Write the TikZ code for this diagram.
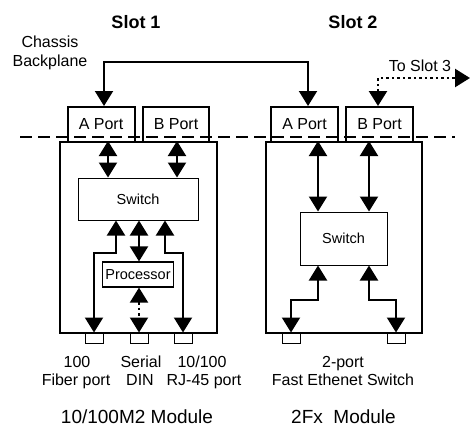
\documentclass[tikz,border=0pt]{standalone}
\usepackage{fontspec}
\setmainfont{Liberation Sans}
\usetikzlibrary{arrows.meta}
\begin{document}
\begin{tikzpicture}[x=1pt, y=-1pt, line join=miter,
  lbl/.style={font=\fontsize{16}{19}\selectfont, inner sep=0pt, anchor=base},
  big/.style={font=\fontsize{19}{22}\selectfont, inner sep=0pt, anchor=base},
  title/.style={font=\fontsize{18}{21}\selectfont\bfseries, inner sep=0pt, anchor=base},
  box/.style={draw, line width=2pt, inner sep=0pt},
  port/.style={box, minimum width=67pt, minimum height=35pt, font=\fontsize{16}{19}\selectfont},
  chip/.style={draw, line width=1pt, inner sep=0pt, font=\fontsize{14.5}{17}\selectfont},
  jack/.style={draw, line width=1pt, minimum width=18pt, minimum height=10pt, inner sep=0pt},
  link/.style={line width=2pt, {Triangle[width=18pt,length=15pt]}-{Triangle[width=18pt,length=15pt]}},
  dots/.style={dash pattern=on 2.5pt off 3pt}]
\useasboundingbox (0,0) rectangle (474,429);
% slot titles
\node[title] (slot1) at (136,28) {Slot 1};
\node[title] (slot2) at (353,28) {Slot 2};
\node[lbl] (chas) at (50,47) {Chassis};
\node[lbl] (bplane) at (50,66) {Backplane};
\node[lbl] (toslot) at (420,71) {To Slot 3};
% modules
\node[box, minimum width=157pt, minimum height=191pt] (m1) at (138.5,237.5) {};
\node[box, minimum width=156pt, minimum height=191pt] (m2) at (344,237.5) {};
\node[port] (a1) at (101,124.5) {A Port};
\node[port, minimum width=66pt] (b1) at (176,124.5) {B Port};
\node[port] (a2) at (304.5,124.5) {A Port};
\node[port] (b2) at (379.5,124.5) {B Port};
\node[chip, minimum width=120pt, minimum height=42pt] (sw1) at (138,199) {Switch};
\node[chip, line width=1.2pt, minimum width=71pt, minimum height=25pt] (pr1) at (138,274.5) {Processor};
\node[chip, minimum width=87pt, minimum height=53pt] (sw2) at (343.5,238.5) {Switch};
% front jacks
\node[jack] (j1a) at (94,338) {};
\node[jack] (j1b) at (139,338) {};
\node[jack] (j1c) at (183,338) {};
\node[jack] (j2a) at (291,338) {};
\node[jack] (j2b) at (396,338) {};
% backplane
\coordinate (bpL) at (104,62); \coordinate (bpR) at (308,62);
\draw[link] (bpL |- a1.north) -- (bpL) -- (bpR) -- (bpR |- a2.north);
\coordinate (tsA) at (378,78); \coordinate (tsB) at (470,78);
\draw[link, dots, line width=2.5pt] (tsA |- b2.north) -- (tsA) -- (tsB);
% slot 1 inside
\coordinate (t1a) at (108,160); \coordinate (t1b) at (177,160);
\draw[link] (t1a |- m1.north) -- (t1a |- sw1.north);
\draw[link] (t1b |- m1.north) -- (t1b |- sw1.north);
\coordinate (k1a) at (116,253); \coordinate (k1c) at (165,253);
\draw[link] (k1a |- sw1.south) -- (k1a) -| (j1a.north);
\draw[link] (k1c |- sw1.south) -- (k1c) -| (j1c.north);
\draw[link] (sw1.south -| j1b) -- (pr1.north -| j1b);
\draw[link, dots] (pr1.south -| j1b) -- (j1b.north);
% slot 2 inside
\coordinate (k2a) at (318,300); \coordinate (k2b) at (369,300);
\draw[link] (k2a |- m2.north) -- (k2a |- sw2.north);
\draw[link] (k2b |- m2.north) -- (k2b |- sw2.north);
\draw[link] (k2a |- sw2.south) -- (k2a) -| (j2a.north);
\draw[link] (k2b |- sw2.south) -- (k2b) -| (j2b.north);
% boundary line
\coordinate (dl) at (20,137); \coordinate (dr) at (455,137);
\draw[line width=2pt, dash pattern=on 12pt off 6pt] (dl) -- (dr);
% labels
\node[lbl] (l1a) at (77,367) {100};
\node[lbl] (l1b) at (76,385) {Fiber port};
\node[lbl] (l2a) at (141,367) {Serial};
\node[lbl] (l2b) at (140,385) {DIN};
\node[lbl] (l3a) at (202,367) {10/100};
\node[lbl] (l3b) at (204,385) {RJ-45 port};
\node[lbl] (l4a) at (343,367) {2-port};
\node[lbl] (l4b) at (343,385) {Fast Ethenet Switch};
\node[big] (mod1) at (137,423) {10/100M2 Module};
\node[big] (mod2) at (343.5,423) {2Fx\ \ Module};
\end{tikzpicture}
\end{document}
